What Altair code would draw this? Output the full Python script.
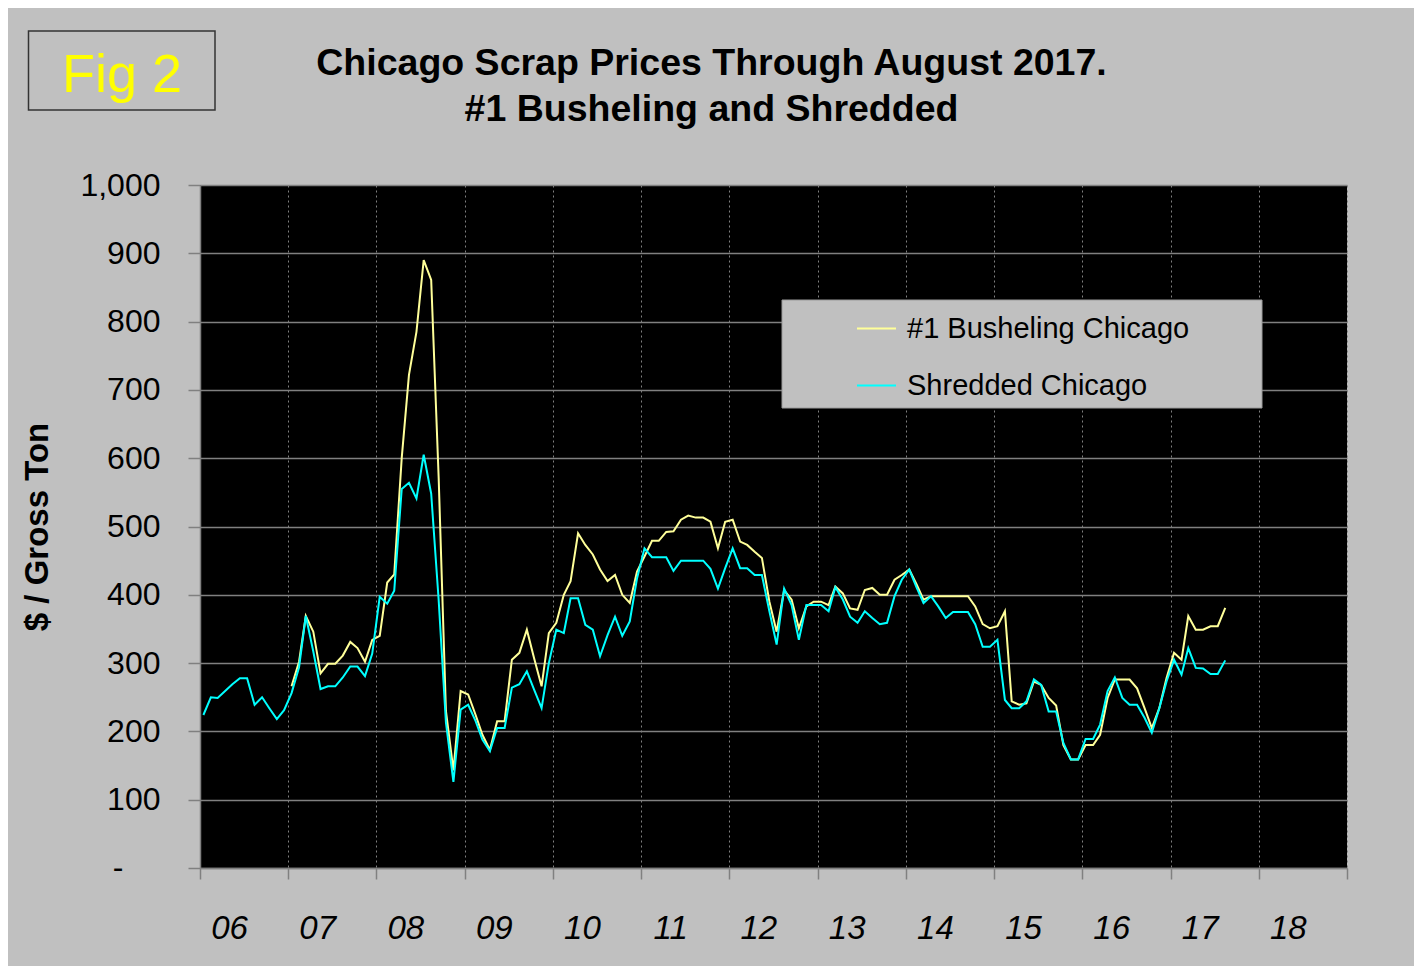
import altair as alt
import pandas as pd

series_names = ["#1 Busheling Chicago", "Shredded Chicago"]
series_colors = ["#ffff99", "#00ffff"]

# Monthly prices, $ / gross ton
shredded_start = "2006-01-01"
shredded = [
    224, 250, 249, 259, 269, 278, 278, 239, 250, 234, 218, 231,   # 2006
    256, 294, 369, 317, 262, 266, 266, 279, 295, 295, 281, 314,   # 2007
    397, 387, 406, 555, 564, 541, 605, 548, 392, 213, 126, 232,   # 2008
    239, 215, 188, 171, 205, 205, 264, 269, 288, 261, 234, 300,   # 2009
    349, 344, 395, 395, 356, 349, 310, 341, 368, 340, 361, 424,   # 2010
    468, 455, 455, 455, 435, 450, 450, 450, 450, 438, 409, 439,   # 2011
    468, 439, 439, 429, 429, 376, 327, 409, 385, 334, 385, 385,   # 2012
    385, 376, 411, 393, 368, 359, 376, 366, 357, 359, 398, 422,   # 2013
    437, 410, 388, 398, 383, 366, 375, 375, 375, 357, 324, 324,   # 2014
    334, 246, 234, 234, 244, 276, 268, 229, 229, 183, 159, 159,   # 2015
    189, 189, 210, 259, 279, 249, 239, 239, 220, 198, 234, 273,   # 2016
    305, 283, 322, 293, 292, 284, 284, 304,                       # 2017
]
busheling_start = "2007-01-01"
busheling = [
    266, 302, 369, 346, 285, 299, 299, 311, 331, 322, 302, 334,   # 2007
    340, 418, 430, 600, 722, 785, 890, 861, 571, 230, 143, 259,   # 2008
    254, 224, 195, 173, 215, 215, 305, 315, 349, 307, 266, 344,   # 2009
    359, 400, 420, 490, 473, 459, 437, 420, 429, 400, 388, 434,   # 2010
    456, 479, 479, 492, 493, 510, 516, 513, 513, 507, 468, 507,   # 2011
    510, 478, 473, 463, 454, 390, 346, 407, 393, 351, 383, 390,   # 2012
    390, 385, 412, 402, 380, 378, 407, 410, 400, 400, 422, 429,   # 2013
    437, 415, 393, 398, 398, 398, 398, 398, 398, 383, 357, 351,   # 2014
    354, 376, 244, 239, 241, 273, 268, 249, 238, 180, 159, 159,   # 2015
    180, 180, 195, 249, 276, 276, 276, 263, 234, 205, 234, 278,   # 2016
    315, 305, 369, 349, 349, 354, 354, 381,                       # 2017
]

year_ticks = list(range(2006, 2020))
y_ticks = list(range(0, 1001, 100))
zero_label = ["-"]
title_lines = ["Chicago Scrap Prices Through August 2017.", "#1 Busheling and Shredded"]
fig_label = ["Fig 2"]
y_title = "$ / Gross Ton"

FONT = "Liberation Sans"


def monthly(values, start, name):
    dates = pd.date_range(start=start, periods=len(values), freq="MS") + pd.Timedelta(days=14)
    return pd.DataFrame({"date": dates.strftime("%Y-%m-%d"), "price": values, "series": name})


df = pd.concat([
    monthly(busheling, busheling_start, series_names[0]),
    monthly(shredded, shredded_start, series_names[1]),
], ignore_index=True)

x_domain = [alt.DateTime(year=2006, month=1, date=1, utc=True),
            alt.DateTime(year=2019, month=1, date=1, utc=True)]
x_values = [alt.DateTime(year=y, month=1, date=1, utc=True) for y in year_ticks]

y_scale = alt.Scale(domain=[0, 1000], nice=False)

lines = alt.Chart(df).mark_line(strokeWidth=2).encode(
    x=alt.X(
        "date:T",
        scale=alt.Scale(type="utc", domain=x_domain),
        axis=alt.Axis(
            values=x_values,
            labelExpr="utcyear(datum.value) >= 2019 ? '' : utcFormat(datum.value, '%y')",
            labelOffset=29,
            labelFont=FONT,
            labelFontSize=33,
            labelFontStyle="italic",
            labelColor="black",
            labelPadding=33,
            labelBaseline="top",
            labelAlign="center",
            labelFlush=False,
            labelOverlap=False,
            tickSize=11,
            tickColor="#808080",
            tickWidth=1.5,
            domainColor="#808080",
            domainWidth=1.5,
            grid=True,
            gridColor="#808080",
            gridDash=[2, 3],
            gridWidth=1,
        ),
        title=None,
    ),
    y=alt.Y(
        "price:Q",
        scale=y_scale,
        axis=alt.Axis(
            values=y_ticks,
            labelExpr="datum.value == 0 ? '' : format(datum.value, ',')",
            labelFont=FONT,
            labelFontSize=32,
            labelColor="black",
            labelPadding=28,
            tickSize=12,
            tickColor="#808080",
            tickWidth=1.5,
            domainColor="#808080",
            domainWidth=1.5,
            grid=True,
            gridColor="#808080",
            gridWidth=1.5,
            titleFont=FONT,
            titleFontSize=33,
            titleFontWeight="bold",
            titleColor="black",
            titleAngle=270,
            titleX=-163,
            titleY=341.5,
            titleAlign="center",
            titleBaseline="middle",
        ),
        title=y_title,
    ),
    color=alt.Color(
        "series:N",
        scale=alt.Scale(domain=series_names, range=series_colors),
        legend=alt.Legend(
            orient="none",
            legendX=656,
            legendY=123,
            title=None,
            symbolType="stroke",
            symbolSize=1521,
            symbolStrokeWidth=2,
            labelFont=FONT,
            labelFontSize=29,
            labelColor="black",
            labelOffset=10,
            labelLimit=600,
            rowPadding=21,
            padding=0,
        ),
    ),
)

# accounting-style "-" label for the zero tick
zero_text = alt.Chart(pd.DataFrame({"t": zero_label, "v": [0]})).mark_text(
    font=FONT, fontSize=32, color="black", align="center", baseline="middle"
).encode(text="t:N", y=alt.Y("v:Q", scale=y_scale), x=alt.value(-82))

legend_bg = alt.Chart(pd.DataFrame({"k": [0]})).mark_rect(
    fill="#c0c0c0", stroke="#9a9a9a", strokeWidth=1
).encode(
    x=alt.value(582), x2=alt.value(1062), y=alt.value(115), y2=alt.value(223)
)

title1 = alt.Chart(pd.DataFrame({"t": [title_lines[0]]})).mark_text(
    font=FONT, fontSize=37.5, fontWeight="bold", color="black", align="center", baseline="alphabetic"
).encode(text="t:N", x=alt.value(511.5), y=alt.value(-110))

title2 = alt.Chart(pd.DataFrame({"t": [title_lines[1]]})).mark_text(
    font=FONT, fontSize=37.5, fontWeight="bold", color="black", align="center", baseline="alphabetic"
).encode(text="t:N", x=alt.value(511.5), y=alt.value(-64))

fig_box = alt.Chart(pd.DataFrame({"k": [0]})).mark_rect(
    fill="#c0c0c0", stroke="#333333", strokeWidth=1.5
).encode(
    x=alt.value(-171.5), x2=alt.value(15), y=alt.value(-154), y2=alt.value(-75)
)

fig_text = alt.Chart(pd.DataFrame({"t": fig_label})).mark_text(
    font=FONT, fontSize=54, color="#ffff00", align="center", baseline="alphabetic"
).encode(text="t:N", x=alt.value(-78), y=alt.value(-93))

chart = alt.layer(legend_bg, lines, zero_text, fig_box, fig_text, title1, title2).properties(
    width=1147,
    height=683,
    padding={"left": 192, "top": 177, "right": 67, "bottom": 98},
    autosize=alt.AutoSizeParams(type="none"),
    background="#c0c0c0",
).configure_view(fill="black", strokeWidth=0)

chart.save("out.html", embed_options={"renderer": "svg", "actions": False})
